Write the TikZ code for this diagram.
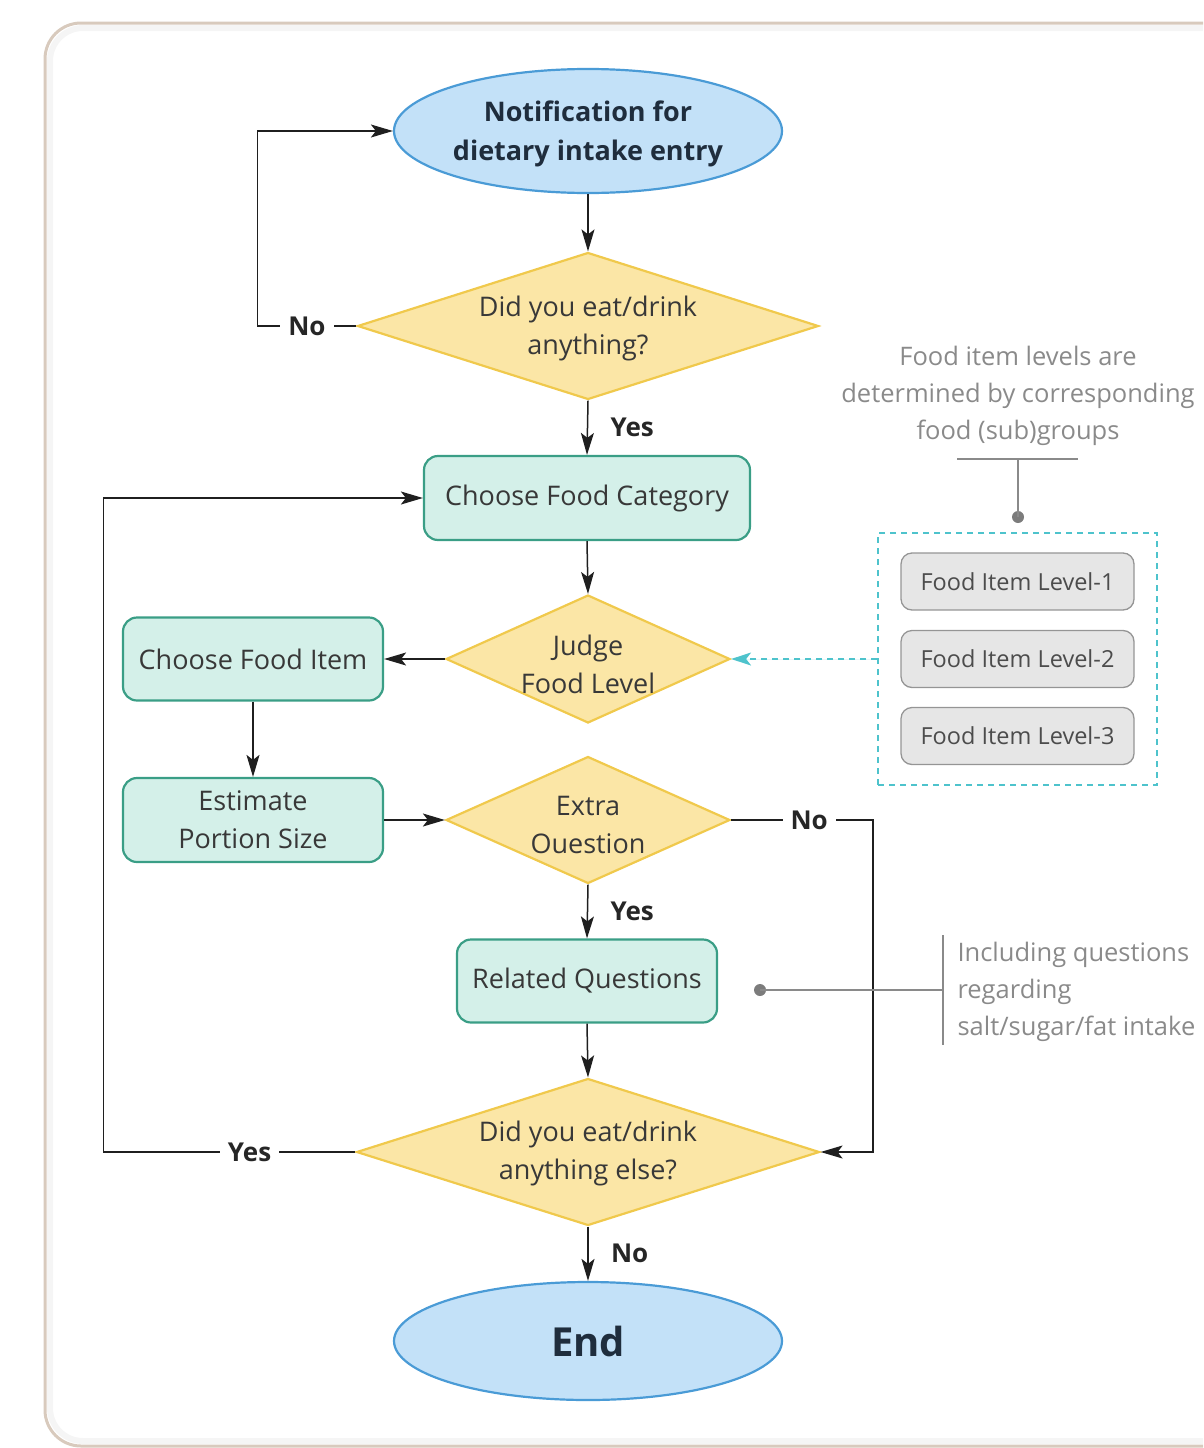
\documentclass[tikz,border=0pt]{standalone}
\usepackage{fontspec}
\setmainfont{Open Sans}
\usetikzlibrary{shapes.geometric,arrows.meta,calc}
\definecolor{framec}{HTML}{D8CABD}
\definecolor{ellfill}{HTML}{C3E1F8}
\definecolor{elldraw}{HTML}{4A9BD6}
\definecolor{diafill}{HTML}{FBE6A6}
\definecolor{diadraw}{HTML}{F0C94C}
\definecolor{procfill}{HTML}{D4F0E9}
\definecolor{procdraw}{HTML}{3A9E86}
\definecolor{boxfill}{HTML}{E6E6E6}
\definecolor{boxdraw}{HTML}{959595}
\definecolor{cyanc}{HTML}{4EC3CC}
\definecolor{notec}{HTML}{8A8A8A}
\definecolor{txtc}{HTML}{383838}
\definecolor{darkt}{HTML}{1F2D3D}
\tikzset{
  ell/.style={ellipse, draw=elldraw, fill=ellfill, line width=2.2},
  dia/.style={diamond, draw=diadraw, fill=diafill, line width=2.2, inner sep=0},
  proc/.style={rectangle, rounded corners=14, draw=procdraw, fill=procfill, line width=2.2,
    text=txtc, align=center, font=\fontsize{27}{38}\selectfont},
  flowtext/.style={align=center, text=txtc, font=\fontsize{27}{38}\selectfont},
  lvlbox/.style={rectangle, rounded corners=11, draw=boxdraw, fill=boxfill, line width=1.3,
    minimum width=233, minimum height=57, text=txtc!90, font=\fontsize{23.5}{28}\selectfont},
  arr/.style={-{Stealth[length=22,width=13,inset=5]}, line width=1.5, draw=black!88},
  lab/.style={font=\bfseries\fontsize{26}{30}\selectfont, text=black!85},
  labw/.style={lab, fill=white, inner sep=8},
  note/.style={text=notec, font=\fontsize{25.5}{37}\selectfont},
  noteline/.style={draw=notec, line width=1.5},
  dot/.style={circle, fill=notec!90!black, inner sep=0, minimum size=12},
}
\begin{document}
\begin{tikzpicture}[x=1pt,y=-1pt]
\useasboundingbox (0,0) rectangle (1203,1448);
\clip (0,0) rectangle (1203,1448);
% frame
\draw[black!4, line width=6, rounded corners=33] (50,28) rectangle (1250,1441);
\draw[framec, line width=3, rounded corners=36] (45,23) rectangle (1250,1446);

% start ellipse
\node[ell, minimum width=388, minimum height=124] (e1) at (588,131) {};
\node[align=center, text=darkt, font=\bfseries\fontsize{27}{39}\selectfont] (e1t) at (588,134) {Notification for\\dietary intake entry};

% decision 1
\node[dia, minimum width=461, minimum height=147] (d1) at (588,326) {};
\node[flowtext] (d1t) at (588,328) {Did you eat/drink\\anything?};

% choose food category
\node[proc, minimum width=326, minimum height=84] (r1) at (587,498) {Choose Food Category};

% judge food level
\node[dia, minimum width=284, minimum height=128] (d2) at (588,659) {};
\node[flowtext] (d2t) at (588,664) {Judge\\Food Level};

% choose food item
\node[proc, minimum width=260, minimum height=83] (r2) at (253,659) {Choose Food Item};

% estimate portion
\node[proc, minimum width=260, minimum height=84] (r3) at (253,820) {Estimate\\Portion Size};

% extra question
\node[dia, minimum width=284, minimum height=127] (d3) at (588,820) {};
\node[flowtext] (d3t) at (588,825) {Extra\\Ouestion};

% related questions
\node[proc, minimum width=260, minimum height=83] (r4) at (587,981) {Related Questions};

% decision 4
\node[dia, minimum width=463, minimum height=147] (d4) at (588,1152) {};
\node[flowtext] (d4t) at (588,1153) {Did you eat/drink\\anything else?};

% end
\node[ell, minimum width=388, minimum height=118] (e2) at (588,1341) {};
\node[text=darkt, font=\bfseries\fontsize{40}{48}\selectfont] (e2t) at (588,1341) {End};

% connectors
\draw[arr] (e1.south) -- (d1.north);
\draw[arr] (d1.west) -- node[labw, pos=0.5] {No} ($(d1.west)+(-99,0)$) |- (e1.west);
\draw[arr] (d1.south) -- node[lab, right=19pt] {Yes} (r1.north);
\draw[arr] (r1.south) -- (d2.north);
\draw[arr] (d2.west) -- (r2.east);
\draw[arr] (r2.south) -- (r3.north);
\draw[arr] (r3.east) -- (d3.west);
\draw[arr] (d3.south) -- node[lab, right=19pt] {Yes} (r4.north);
\draw[arr] (d3.east) -- node[labw, pos=0.55] {No} ($(d3.east)+(142,0)$) |- (d4.east);
\draw[arr] (r4.south) -- (d4.north);
\draw[arr] (d4.west) -- node[labw, pos=0.42] {Yes} ($(d4.west)+(-252,0)$) |- (r1.west);
\draw[arr] (d4.south) -- node[lab, right=19pt] {No} (e2.north);

% food level annotation
\node[note, align=center] (n1) at (1018,396) {Food item levels are\\determined by corresponding\\food (sub)groups};
\coordinate (n1l) at (957,459);
\coordinate (n1r) at (1078,459);
\coordinate (n1m) at (1018,459);
\node[dot] (dot1) at (1018,517) {};
\draw[noteline] (n1l) -- (n1r);
\draw[noteline] (n1m) -- (dot1.center);

\node[draw=cyanc, dashed, dash pattern=on 6pt off 5pt, line width=1.4, minimum width=279, minimum height=252] (fbox) at (1017.5,659) {};
\node[lvlbox] (l1) at (1017.5,581.5) {Food Item Level-1};
\node[lvlbox] (l2) at (1017.5,659) {Food Item Level-2};
\node[lvlbox] (l3) at (1017.5,736) {Food Item Level-3};
\draw[-{Stealth[length=20,width=13,inset=5]}, draw=cyanc, fill=cyanc, line width=1.4, dash pattern=on 6pt off 5pt] (fbox.west) -- (d2.east);

% related annotation
\node[dot] (dot2) at (760,990) {};
\coordinate (v1) at (943,935);
\coordinate (v2) at (943,1045);
\coordinate (vm) at (943,990);
\draw[noteline] (dot2.center) -- (vm);
\draw[noteline] (v1) -- (v2);
\node[note, align=left, anchor=west] (n2) at (954,992) {Including questions\\regarding\\salt/sugar/fat intake};
\end{tikzpicture}
\end{document}
